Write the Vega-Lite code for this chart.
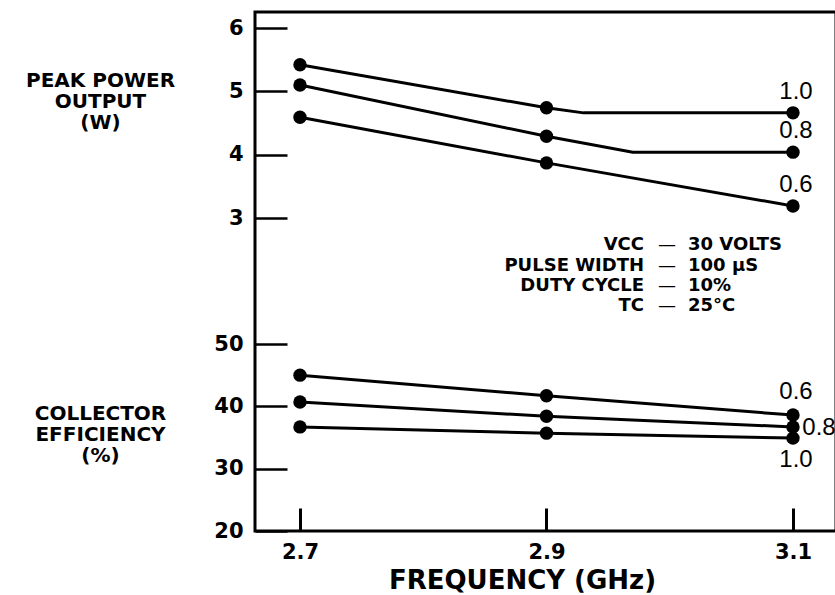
{
  "$schema": "https://vega.github.io/schema/vega-lite/v6.json",
  "width": 581,
  "height": 519,
  "autosize": "none",
  "padding": {"left": 255, "top": 12, "right": 0, "bottom": 64},
  "background": "white",
  "config": {
    "view": {"stroke": "black", "strokeWidth": 3},
    "font": "DejaVu Sans"
  },
  "datasets": {
    "power": [
      {"freq": 2.7, "power": 5.42, "ratio": "1.0", "measured": true},
      {"freq": 2.9, "power": 4.74, "ratio": "1.0", "measured": true},
      {"freq": 2.93, "power": 4.66, "ratio": "1.0", "measured": false},
      {"freq": 3.1, "power": 4.66, "ratio": "1.0", "measured": true},
      {"freq": 2.7, "power": 5.10, "ratio": "0.8", "measured": true},
      {"freq": 2.9, "power": 4.29, "ratio": "0.8", "measured": true},
      {"freq": 2.97, "power": 4.04, "ratio": "0.8", "measured": false},
      {"freq": 3.1, "power": 4.04, "ratio": "0.8", "measured": true},
      {"freq": 2.7, "power": 4.59, "ratio": "0.6", "measured": true},
      {"freq": 2.9, "power": 3.87, "ratio": "0.6", "measured": true},
      {"freq": 3.1, "power": 3.19, "ratio": "0.6", "measured": true}
    ],
    "eff": [
      {"freq": 2.7, "eff": 45.0, "ratio": "0.6"},
      {"freq": 2.9, "eff": 41.7, "ratio": "0.6"},
      {"freq": 3.1, "eff": 38.6, "ratio": "0.6"},
      {"freq": 2.7, "eff": 40.7, "ratio": "0.8"},
      {"freq": 2.9, "eff": 38.4, "ratio": "0.8"},
      {"freq": 3.1, "eff": 36.7, "ratio": "0.8"},
      {"freq": 2.7, "eff": 36.7, "ratio": "1.0"},
      {"freq": 2.9, "eff": 35.7, "ratio": "1.0"},
      {"freq": 3.1, "eff": 34.9, "ratio": "1.0"}
    ],
    "notes": [
      {"label": "VCC", "dash": "—", "value": "30 VOLTS", "freq": 2.9824, "level": 2.57},
      {"label": "PULSE WIDTH", "dash": "—", "value": "100 µS", "freq": 2.9824, "level": 2.24},
      {"label": "DUTY CYCLE", "dash": "—", "value": "10%", "freq": 2.9824, "level": 1.92},
      {"label": "TC", "dash": "—", "value": "25°C", "freq": 2.9824, "level": 1.61}
    ]
  },
  "layer": [
    {
      "encoding": {
        "x": {
          "field": "freq", "type": "quantitative",
          "scale": {"domain": [2.6635, 3.1349], "nice": false, "zero": false},
          "axis": {
            "values": [2.7, 2.9, 3.1], "format": ".1f", "domain": false, "grid": false,
            "tickSize": -23, "tickWidth": 3, "tickColor": "black",
            "labelFont": "DejaVu Sans", "labelFontWeight": "bold", "labelFontSize": 21, "labelColor": "black",
            "labelPadding": 33, "labelDx": 6,
            "title": "FREQUENCY (GHz)", "titleFont": "DejaVu Sans", "titleFontWeight": "bold", "titleFontSize": 26,
            "titleColor": "black", "titleX": 267, "titleY": 57, "titleBaseline": "alphabetic", "titleAlign": "center"
          }
        },
        "y": {
          "field": "power", "type": "quantitative",
          "scale": {"domain": [3, 6], "range": [206, 16], "nice": false, "zero": false},
          "axis": {
            "orient": "left", "values": [3, 4, 5, 6], "domain": false, "grid": false,
            "tickSize": -32, "tickWidth": 2.5, "tickColor": "black",
            "labelFont": "DejaVu Sans", "labelFontWeight": "bold", "labelFontSize": 21, "labelColor": "black",
            "labelPadding": 44,
            "title": ["PEAK POWER", "OUTPUT", "(W)"], "titleAngle": 0, "titleX": -155, "titleY": 58,
            "titleAlign": "center", "titleBaseline": "top", "titleFont": "DejaVu Sans", "titleFontWeight": "bold",
            "titleFontSize": 20, "titleLineHeight": 21, "titleColor": "black"
          }
        }
      },
      "layer": [
        {
          "data": {"name": "power"},
          "mark": {"type": "line", "color": "black", "strokeWidth": 3},
          "encoding": {"detail": {"field": "ratio"}, "order": {"field": "freq"}}
        },
        {
          "data": {"name": "power"},
          "transform": [{"filter": "datum.measured"}],
          "mark": {"type": "point", "filled": true, "color": "black", "size": 180, "opacity": 1}
        },
        {
          "data": {"name": "power"},
          "transform": [{"filter": "datum.freq == 3.1"}],
          "mark": {"type": "text", "font": "Liberation Sans", "fontSize": 24, "color": "black", "dx": 3, "dy": -21},
          "encoding": {"text": {"field": "ratio"}}
        },
        {
          "data": {"name": "notes"},
          "mark": {"type": "text", "font": "DejaVu Sans", "fontWeight": "bold", "fontSize": 18, "color": "black", "align": "right", "baseline": "middle", "dx": -4},
          "encoding": {"y": {"field": "level", "type": "quantitative"}, "text": {"field": "label"}}
        },
        {
          "data": {"name": "notes"},
          "mark": {"type": "text", "font": "DejaVu Sans", "fontSize": 18, "color": "black", "align": "center", "baseline": "middle", "dx": 19},
          "encoding": {"y": {"field": "level", "type": "quantitative"}, "text": {"field": "dash"}}
        },
        {
          "data": {"name": "notes"},
          "mark": {"type": "text", "font": "DejaVu Sans", "fontWeight": "bold", "fontSize": 18, "color": "black", "align": "left", "baseline": "middle", "dx": 40},
          "encoding": {"y": {"field": "level", "type": "quantitative"}, "text": {"field": "value"}}
        }
      ]
    },
    {
      "data": {"name": "eff"},
      "encoding": {
        "x": {
          "field": "freq", "type": "quantitative",
          "scale": {"domain": [2.6635, 3.1349], "nice": false, "zero": false}
        },
        "y": {
          "field": "eff", "type": "quantitative",
          "scale": {"domain": [20, 50], "range": [519, 332], "nice": false, "zero": false},
          "axis": {
            "orient": "left", "values": [20, 30, 40, 50], "domain": false, "grid": false,
            "tickSize": -32, "tickWidth": 2.5, "tickColor": "black",
            "labelFont": "DejaVu Sans", "labelFontWeight": "bold", "labelFontSize": 21, "labelColor": "black",
            "labelPadding": 44,
            "title": ["COLLECTOR", "EFFICIENCY", "(%)"], "titleAngle": 0, "titleX": -155, "titleY": 391,
            "titleAlign": "center", "titleBaseline": "top", "titleFont": "DejaVu Sans", "titleFontWeight": "bold",
            "titleFontSize": 20, "titleLineHeight": 21, "titleColor": "black"
          }
        }
      },
      "layer": [
        {
          "mark": {"type": "line", "color": "black", "strokeWidth": 3},
          "encoding": {"detail": {"field": "ratio"}, "order": {"field": "freq"}}
        },
        {
          "mark": {"type": "point", "filled": true, "color": "black", "size": 180, "opacity": 1}
        },
        {
          "transform": [{"filter": "datum.freq == 3.1 && datum.ratio == '0.6'"}],
          "mark": {"type": "text", "font": "Liberation Sans", "fontSize": 24, "color": "black", "dx": 3, "dy": -23},
          "encoding": {"text": {"field": "ratio"}}
        },
        {
          "transform": [{"filter": "datum.freq == 3.1 && datum.ratio == '0.8'"}],
          "mark": {"type": "text", "font": "Liberation Sans", "fontSize": 24, "color": "black", "dx": 26, "dy": 1},
          "encoding": {"text": {"field": "ratio"}}
        },
        {
          "transform": [{"filter": "datum.freq == 3.1 && datum.ratio == '1.0'"}],
          "mark": {"type": "text", "font": "Liberation Sans", "fontSize": 24, "color": "black", "dx": 3, "dy": 22},
          "encoding": {"text": {"field": "ratio"}}
        }
      ]
    }
  ],
  "resolve": {"scale": {"y": "independent"}, "axis": {"y": "independent"}}
}
